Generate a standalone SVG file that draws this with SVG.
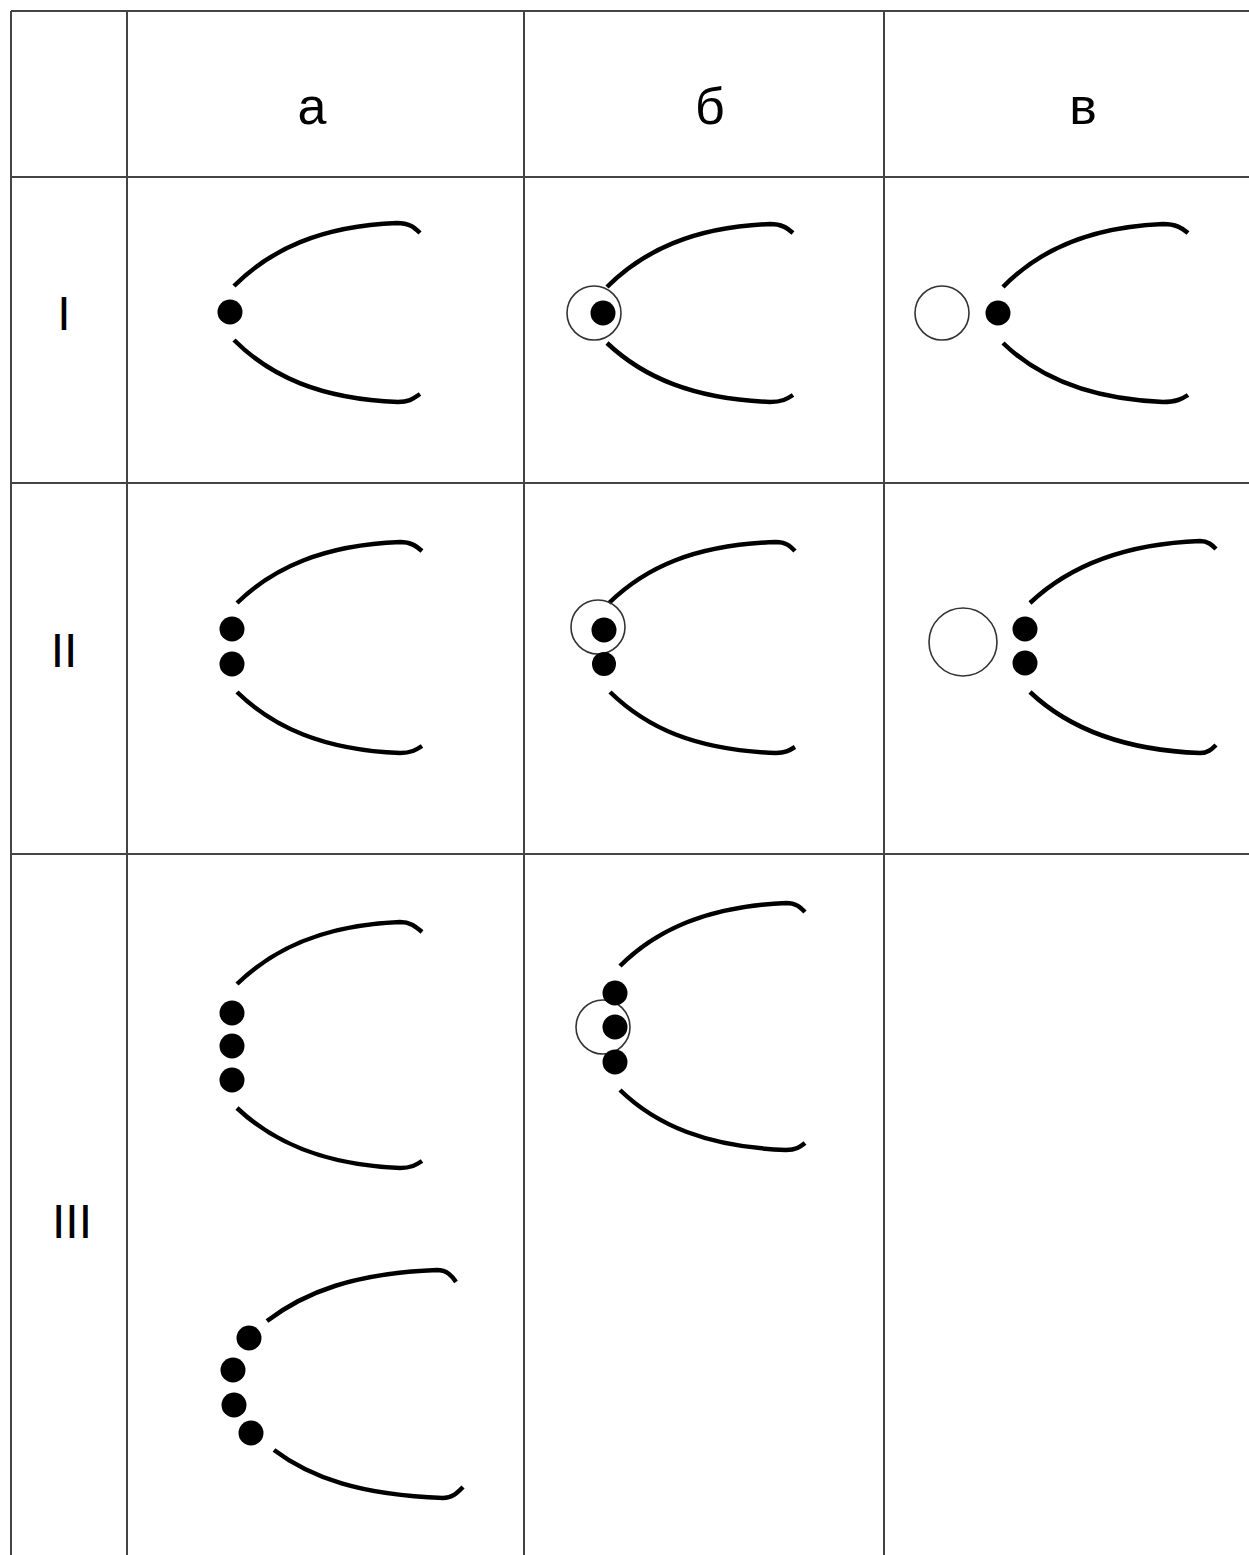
<svg xmlns="http://www.w3.org/2000/svg" width="1249" height="1555" viewBox="0 0 1249 1555">
<style>
.grid{stroke:#444;stroke-width:2;fill:none}
.arc{stroke:#000;stroke-width:4.5;fill:none;stroke-linecap:butt}
.dot{fill:#000}
.ring{fill:none;stroke:#333;stroke-width:1.6}
.hd{font-family:"Liberation Sans",Arial,sans-serif;font-size:52px;fill:#000;text-anchor:middle}
.rn{font-family:"Liberation Sans",Arial,sans-serif;font-size:48px;fill:#000;text-anchor:middle}
</style>
<rect width="1249" height="1555" fill="#fff"/>
<g id="table" class="grid">
<line x1="11" y1="11" x2="1249" y2="11"/>
<line x1="11" y1="177" x2="1249" y2="177"/>
<line x1="11" y1="483" x2="1249" y2="483"/>
<line x1="11" y1="854" x2="1249" y2="854"/>
<line x1="11" y1="11" x2="11" y2="1555"/>
<line x1="127" y1="11" x2="127" y2="1555"/>
<line x1="524" y1="11" x2="524" y2="1555"/>
<line x1="884" y1="11" x2="884" y2="1555"/>
</g>
<g id="headers">
<text class="hd" x="312" y="124">а</text>
<text class="hd" x="710" y="124">б</text>
<text class="hd" x="1083" y="124">в</text>
<text class="rn" x="64" y="330">I</text>
<text class="rn" x="64" y="667">II</text>
<text class="rn" x="72" y="1238">III</text>
</g>
<g id="cell-I-a">
<path class="arc" d="M234,286 C270,250 320,226 397,223 C409,223 414,227 420,233"/>
<path class="arc" d="M234,340 C270,376 320,399 398,402 C410,402 414,398 420,394"/>
<circle class="dot" cx="230" cy="312" r="12.5"/>
</g>
<g id="cell-I-b">
<path class="arc" d="M607,287 C643,251 693,227 770,224 C782,224 787,228 793,233"/>
<path class="arc" d="M607,343 C643,377 693,399 770,402 C782,402 787,399 793,395"/>
<circle class="ring" cx="594" cy="313" r="27"/>
<circle class="dot" cx="603" cy="313" r="12.5"/>
</g>
<g id="cell-I-c">
<path class="arc" d="M1003,287 C1038,251 1088,227 1163,224 C1176,224 1182,228 1188,233"/>
<path class="arc" d="M1003,343 C1038,377 1088,399 1163,402 C1176,402 1182,399 1188,395"/>
<circle class="ring" cx="942" cy="313" r="27"/>
<circle class="dot" cx="998" cy="313" r="12.5"/>
</g>
<g id="cell-II-a">
<path class="arc" d="M237,603 C273,568 323,545 400,542 C411,542 416,546 422,551"/>
<path class="arc" d="M237,692 C273,727 323,750 400,753 C411,753 416,750 422,746"/>
<circle class="dot" cx="232" cy="629" r="12.5"/>
<circle class="dot" cx="232" cy="664" r="12.5"/>
</g>
<g id="cell-II-b">
<path class="arc" d="M609,603 C645,568 693,545 776,542 C786,542 790,546 795,551"/>
<path class="arc" d="M610,692 C646,727 694,750 776,753 C786,753 790,750 795,747"/>
<circle class="ring" cx="598" cy="627" r="27"/>
<circle class="dot" cx="604" cy="630" r="12.5"/>
<circle class="dot" cx="604" cy="664" r="12"/>
</g>
<g id="cell-II-c">
<path class="arc" d="M1030,603 C1067,568 1120,544 1200,541 C1208,541 1212,545 1216,549"/>
<path class="arc" d="M1030,692 C1067,727 1120,750 1200,753 C1208,753 1212,749 1216,745"/>
<circle class="ring" cx="963" cy="642" r="34"/>
<circle class="dot" cx="1025" cy="629" r="12.5"/>
<circle class="dot" cx="1025" cy="663" r="12.5"/>
</g>
<g id="cell-III-a-top">
<path class="arc" d="M237,984 C273,949 323,925 400,922 C411,922 416,927 422,932"/>
<path class="arc" d="M237,1108 C273,1142 323,1165 400,1168 C411,1168 416,1165 422,1161"/>
<circle class="dot" cx="232" cy="1013" r="12.5"/>
<circle class="dot" cx="232" cy="1046" r="12.5"/>
<circle class="dot" cx="232" cy="1080" r="12.5"/>
</g>
<g id="cell-III-b">
<path class="arc" d="M620,966 C656,930 707,906 786,903 C796,903 800,907 805,912"/>
<path class="arc" d="M620,1090 C656,1125 707,1147 786,1150 C796,1150 800,1147 805,1143"/>
<circle class="ring" cx="603" cy="1027" r="27"/>
<circle class="dot" cx="615" cy="993" r="12.5"/>
<circle class="dot" cx="615" cy="1027" r="12.5"/>
<circle class="dot" cx="615" cy="1062" r="12.5"/>
</g>
<g id="cell-III-a-bottom">
<path class="arc" d="M267,1321 C305,1292 355,1273 437,1270 C447,1270 452,1276 456,1282"/>
<path class="arc" d="M274,1450 C311,1478 361,1495 443,1498 C453,1498 458,1492 463,1487"/>
<circle class="dot" cx="249" cy="1338" r="12.5"/>
<circle class="dot" cx="233" cy="1370" r="12.5"/>
<circle class="dot" cx="234" cy="1405" r="12.5"/>
<circle class="dot" cx="251" cy="1433" r="12.5"/>
</g>
</svg>
